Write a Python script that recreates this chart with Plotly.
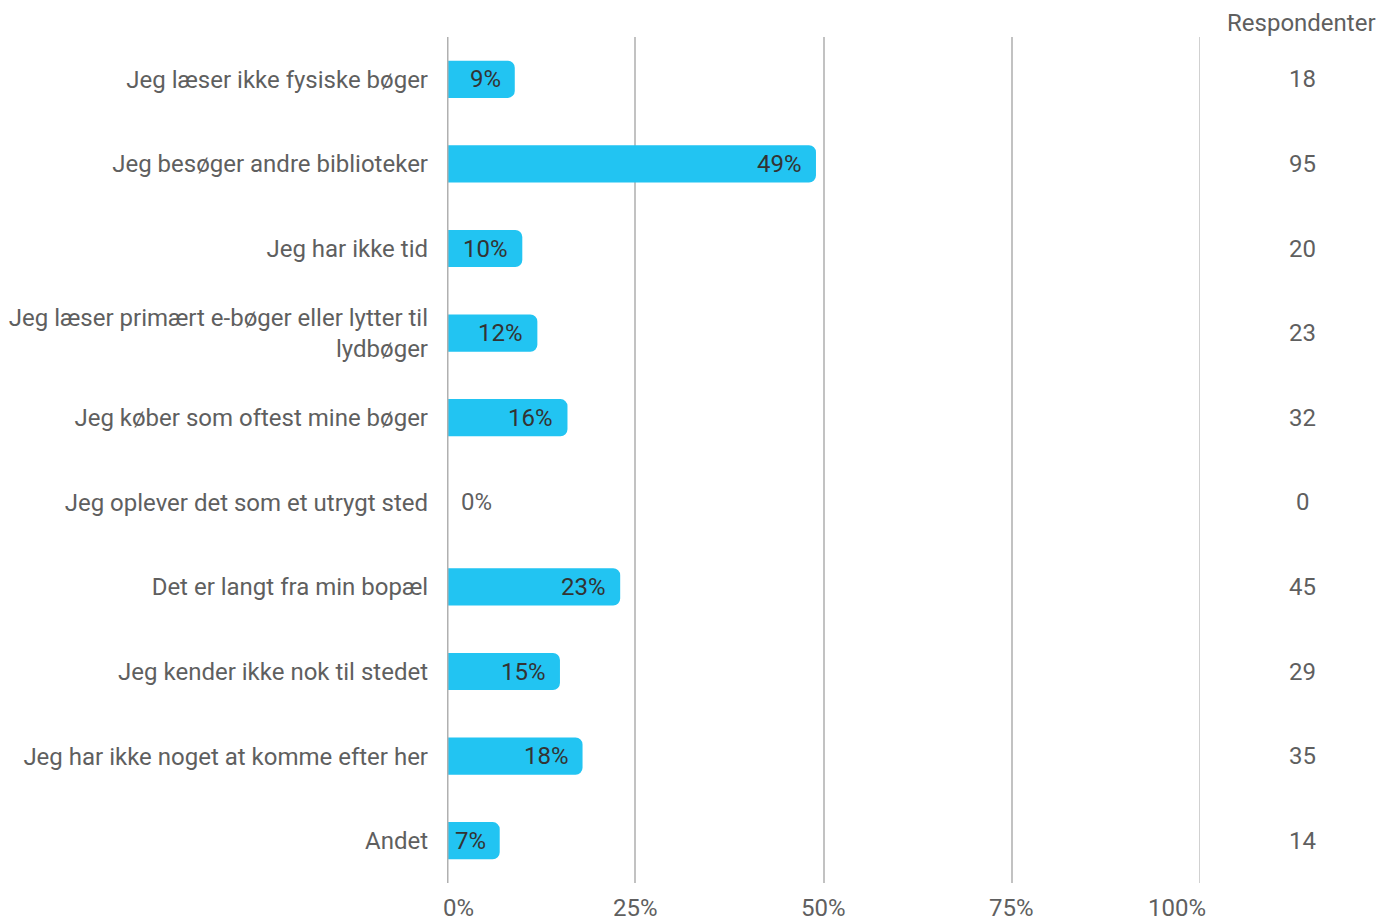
import plotly.graph_objects as go

categories = [
    "Jeg læser ikke fysiske bøger",
    "Jeg besøger andre biblioteker",
    "Jeg har ikke tid",
    "Jeg læser primært e-bøger eller lytter til<br>lydbøger",
    "Jeg køber som oftest mine bøger",
    "Jeg oplever det som et utrygt sted",
    "Det er langt fra min bopæl",
    "Jeg kender ikke nok til stedet",
    "Jeg har ikke noget at komme efter her",
    "Andet",
]
percent = [9, 49, 10, 12, 16, 0, 23, 15, 18, 7]
respondents = [18, 95, 20, 23, 32, 0, 45, 29, 35, 14]
tick_vals = [0, 25, 50, 75, 100]
tick_text = ["0%", "25%", "50%", "75%", "100%"]

FONT = "Roboto"
FS = 24
GREY = "#5f5f5f"
fig = go.Figure()
fig.add_trace(go.Bar(
    x=percent, y=categories, orientation="h",
    marker=dict(color="#22C4F2", line=dict(width=0)),
    width=0.44, hoverinfo="skip",
))

ann = []
for c, p, r in zip(categories, percent, respondents):
    if p > 0:
        ann.append(dict(x=p, y=c, xref="x", yref="y", text=f"{p}%", showarrow=False,
                        xanchor="right", xshift=-12, font=dict(family=FONT, size=FS, color="#333333")))
    else:
        ann.append(dict(x=p, y=c, xref="x", yref="y", text=f"{p}%", showarrow=False,
                        xanchor="left", xshift=12, font=dict(family=FONT, size=FS, color=GREY)))
    ann.append(dict(x=1.1365, y=c, xref="paper", yref="y", text=str(r), showarrow=False,
                    xanchor="center", font=dict(family=FONT, size=FS, color=GREY)))

ann.append(dict(x=1.2325, y=1, xref="paper", yref="paper", yanchor="bottom", yshift=-2,
                xshift=3, text="Respondenter", showarrow=False, xanchor="right",
                font=dict(family=FONT, size=FS, color=GREY)))

for v, t in zip(tick_vals, tick_text):
    if v == tick_vals[0]:
        xa, xs = "left", -6
    elif v == tick_vals[-1]:
        xa, xs = "right", 8
    else:
        xa, xs = "center", 0
    ann.append(dict(x=v, y=0, xref="x", yref="paper", yanchor="top", yshift=-9,
                    text=t, showarrow=False, xanchor=xa, xshift=xs,
                    font=dict(family=FONT, size=FS, color=GREY)))

fig.update_layout(
    width=1386, height=914,
    margin=dict(l=439, r=194, t=29, b=39),
    paper_bgcolor="white", plot_bgcolor="white",
    barcornerradius=7,
    showlegend=False,
    annotations=ann,
    font=dict(family=FONT, size=FS, color=GREY),
    xaxis=dict(range=[0, 100], tickvals=tick_vals, showticklabels=False,
               showgrid=True, gridcolor="#c2c2c2", gridwidth=1.5,
               zeroline=False, showline=False, fixedrange=True, automargin=False),
    yaxis=dict(autorange="reversed", showgrid=False, zeroline=False,
               showline=False, ticks="", ticklabelstandoff=18, automargin=False,
               tickfont=dict(family=FONT, size=FS, color=GREY)),
    shapes=[
        dict(type="line", xref="x", yref="paper", x0=100, x1=100, y0=0, y1=1,
             line=dict(color="#c2c2c2", width=1.5), layer="below"),
        dict(type="line", xref="x", yref="paper", x0=0, x1=0, y0=0, y1=1,
             line=dict(color="#b0b0b0", width=3), layer="above"),
    ],
)

fig.write_html("out.html")
